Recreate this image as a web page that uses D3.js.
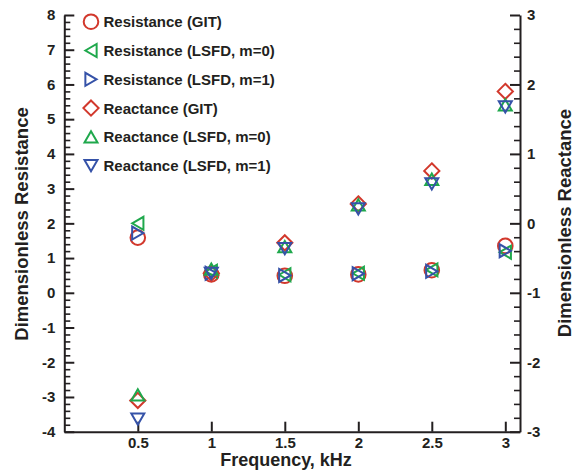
<!DOCTYPE html>
<html>
<head>
<meta charset="utf-8">
<script src="https://cdn.jsdelivr.net/npm/d3@7"></script>
<style>
  html, body { margin: 0; padding: 0; background: #fff; }
  svg { display: block; }
  text { font-family: "Liberation Sans", Arial, Helvetica, sans-serif; font-weight: bold; fill: #231f20; }
</style>
</head>
<body>
<script>
// Frequencies (kHz)
const freqs = [0.5, 1, 1.5, 2, 2.5, 3];

// Dimensionless resistance (left axis)
const resGIT = [1.59, 0.53, 0.49, 0.53, 0.65, 1.35];
const resLSFD0 = [2.0, 0.62, 0.52, 0.56, 0.66, 1.17];
const resLSFD1 = [1.72, 0.56, 0.50, 0.55, 0.62, 1.21];

// Dimensionless reactance (right axis)
const reaGIT = [-2.55, -0.72, -0.28, 0.28, 0.755, 1.90];
const reaLSFD0 = [-2.47, -0.66, -0.335, 0.265, 0.635, 1.705];
const reaLSFD1 = [-2.82, -0.72, -0.364, 0.21, 0.567, 1.676];

// Axis ticks
const xTicks = [0.5, 1, 1.5, 2, 2.5, 3];
const yLeftTicks = [-4, -3, -2, -1, 0, 1, 2, 3, 4, 5, 6, 7, 8];
const yRightTicks = [-3, -2, -1, 0, 1, 2, 3];

const seriesNames = [
  "Resistance (GIT)",
  "Resistance (LSFD, m=0)",
  "Resistance (LSFD, m=1)",
  "Reactance (GIT)",
  "Reactance (LSFD, m=0)",
  "Reactance (LSFD, m=1)"
];

const W = 581, H = 475;
const RED = "#d2382c", GREEN = "#1fa84c", BLUE = "#3552a8";

const svg = d3.select("body").append("svg").attr("width", W).attr("height", H);

const x = d3.scaleLinear().domain([0, 3.1]).range([64.3, 520]);
const yL = d3.scaleLinear().domain([-4, 8]).range([431.7, 15]);
const yR = d3.scaleLinear().domain([-3, 3]).range([431.7, 15]);

// marker shapes, centred on their bounding boxes
function markerPath(kind) {
  const s = 13, h = s * Math.sqrt(3) / 2, d = 7.6;
  switch (kind) {
    case "left": return `M${-h/2},0L${h/2},${-s/2}L${h/2},${s/2}Z`;
    case "right": return `M${h/2},0L${-h/2},${-s/2}L${-h/2},${s/2}Z`;
    case "up": return `M0,${-h/2}L${s/2},${h/2}L${-s/2},${h/2}Z`;
    case "down": return `M0,${h/2}L${s/2},${-h/2}L${-s/2},${-h/2}Z`;
    case "diamond": return `M0,${-d}L${d},0L0,${d}L${-d},0Z`;
  }
}

function drawMarker(g, kind, color, cx, cy) {
  if (kind === "circle") {
    g.append("circle").attr("cx", cx).attr("cy", cy).attr("r", 7.3)
      .attr("fill", "none").attr("stroke", color).attr("stroke-width", 2);
  } else {
    g.append("path").attr("d", markerPath(kind))
      .attr("transform", `translate(${cx},${cy})`)
      .attr("fill", "none").attr("stroke", color).attr("stroke-width", 2)
      .attr("stroke-linejoin", "miter");
  }
}

const series = [
  { vals: resGIT, kind: "circle", color: RED, scale: yL },
  { vals: resLSFD0, kind: "left", color: GREEN, scale: yL },
  { vals: resLSFD1, kind: "right", color: BLUE, scale: yL },
  { vals: reaGIT, kind: "diamond", color: RED, scale: yR },
  { vals: reaLSFD0, kind: "up", color: GREEN, scale: yR },
  { vals: reaLSFD1, kind: "down", color: BLUE, scale: yR }
];

// axes
const axisColor = "#231f20";
const plainFormat = d => String(d); // hyphen-minus for negatives
function styleAxis(g) {
  g.selectAll("path.domain").attr("stroke", axisColor).attr("stroke-width", 2);
  g.selectAll(".tick line").attr("stroke", axisColor).attr("stroke-width", 2);
  g.selectAll(".tick text").style("font-size", "15px").attr("fill", axisColor);
}

// minor ticks every 0.2
const leftMinor = d3.range(-4, 8.0001, 0.2).map(v => +v.toFixed(2)).filter(v => Math.abs(v - Math.round(v)) > 1e-6);
const rightMinor = d3.range(-3, 3.0001, 0.2).map(v => +v.toFixed(2)).filter(v => Math.abs(v - Math.round(v)) > 1e-6);

svg.append("g").attr("transform", "translate(64.3,0)")
  .call(d3.axisLeft(yL).tickValues(leftMinor).tickSizeInner(-6).tickSizeOuter(0).tickFormat(""))
  .call(g => { g.select(".domain").remove(); g.selectAll(".tick line").attr("stroke", axisColor).attr("stroke-width", 1.6); });

svg.append("g").attr("transform", "translate(520,0)")
  .call(d3.axisRight(yR).tickValues(rightMinor).tickSizeInner(-6).tickSizeOuter(0).tickFormat(""))
  .call(g => { g.select(".domain").remove(); g.selectAll(".tick line").attr("stroke", axisColor).attr("stroke-width", 1.6); });

svg.append("g").attr("transform", "translate(64.3,0)")
  .call(d3.axisLeft(yL).tickValues(yLeftTicks).tickSizeInner(-10).tickSizeOuter(0).tickPadding(9).tickFormat(plainFormat))
  .call(styleAxis);

svg.append("g").attr("transform", "translate(520,0)")
  .call(d3.axisRight(yR).tickValues(yRightTicks).tickSizeInner(-10).tickSizeOuter(0).tickPadding(7).tickFormat(plainFormat))
  .call(styleAxis);

svg.append("g").attr("transform", "translate(0,431.7)")
  .call(d3.axisBottom(x).tickValues(xTicks).tickSizeInner(-10).tickSizeOuter(0).tickPadding(6).tickFormat(plainFormat))
  .call(styleAxis);

// axis titles
svg.append("text").attr("x", 286).attr("y", 466).attr("text-anchor", "middle")
  .style("font-size", "18px").text("Frequency, kHz");

svg.append("text").attr("transform", "translate(28,224) rotate(-90)").attr("text-anchor", "middle")
  .style("font-size", "18.5px").text("Dimensionless Resistance");

svg.append("text").attr("transform", "translate(571,223) rotate(-90)").attr("text-anchor", "middle")
  .style("font-size", "18.5px").text("Dimensionless Reactance");

// data markers
const plot = svg.append("g");
series.forEach(s => {
  s.vals.forEach((v, i) => drawMarker(plot, s.kind, s.color, x(freqs[i]), s.scale(v)));
});

// legend
const legend = svg.append("g");
series.forEach((s, i) => {
  const cy = 21.7 + i * 28.8;
  drawMarker(legend, s.kind, s.color, 91, cy);
  legend.append("text").attr("x", 103.5).attr("y", cy + 5.4)
    .style("font-size", "15px").text(seriesNames[i]);
});
</script>
</body>
</html>
